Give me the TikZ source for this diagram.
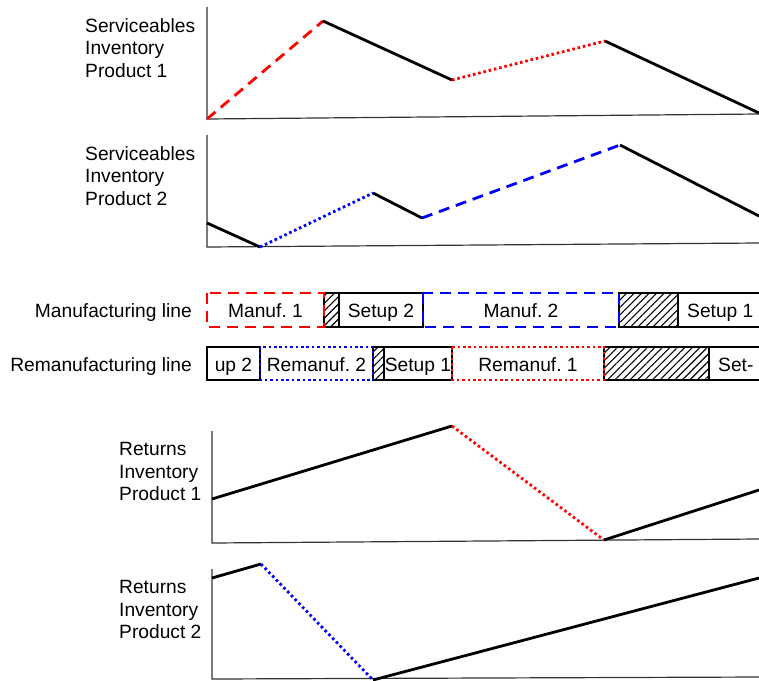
\documentclass[tikz,border=0pt]{standalone}
\usepackage{fontspec}
\setmainfont{Liberation Sans}
\usetikzlibrary{patterns.meta}
\frenchspacing

\tikzset{
	axis/.style={line width=1.2pt, black!80},
	inv/.style={line width=2.8pt},
	dashline/.style={inv, dash pattern=on 11pt off 7pt},
	dotline/.style={inv, dash pattern=on 2.6pt off 2.8pt},
	lab/.style={align=left, anchor=north west, inner sep=0pt, font=\fontsize{19.2}{22.6}\selectfont},
	txt/.style={anchor=base, inner sep=0pt, font=\fontsize{19.2}{22.6}\selectfont},
	bar/.style={draw, line width=2.8pt},
	idle/.style={bar, pattern={Lines[angle=45, distance=5.3pt, line width=1.1pt]}},
}

\begin{document}
\begin{tikzpicture}[x=1pt, y=-1pt]
	\useasboundingbox (0,0) rectangle (759,680);
	\clip (0,0) rectangle (759,680);

	% serviceables, product 1
	\node[lab] (sv1) at (85,18) {Serviceables\\Inventory\\Product 1};
	\draw[axis] (207,7) -- (207,119) -- (759,114);
	\coordinate (a0) at (207,119);
	\coordinate (a1) at (323,21);
	\coordinate (a2) at (452,80);
	\coordinate (a3) at (605,41);
	\coordinate (a4) at (759,113);
	\draw[dashline, red] (a0) -- (a1);
	\draw[inv] (a1) -- (a2);
	\draw[dotline, red] (a2) -- (a3);
	\draw[inv] (a3) -- (a4);

	% serviceables, product 2
	\node[lab] (sv2) at (85,146) {Serviceables\\Inventory\\Product 2};
	\draw[axis] (207,135) -- (207,247) -- (759,243);
	\coordinate (b0) at (207,223);
	\coordinate (b1) at (260,247);
	\coordinate (b2) at (373,193);
	\coordinate (b3) at (422,218);
	\coordinate (b4) at (620,145);
	\coordinate (b5) at (759,216);
	\draw[inv] (b0) -- (b1);
	\draw[dotline, blue] (b1) -- (b2);
	\draw[inv] (b2) -- (b3);
	\draw[dashline, blue] (b3) -- (b4);
	\draw[inv] (b4) -- (b5);

	% manufacturing line
	\node[txt, anchor=base east] (ml) at (192,317) {Manufacturing line};
	\draw[idle] (324,293) rectangle (339,327);
	\draw[idle] (619,293) rectangle (678,327);
	\draw[bar] (339,293) rectangle (423,327);
	\draw[bar] (678,293) rectangle (780,327);
	\draw[bar, dashline, red] (207,293) rectangle (324,327);
	\draw[bar, dashline, blue] (423,293) rectangle (619,327);
	\node[txt] (m1) at (265.5,317) {Manuf. 1};
	\node[txt] (s2) at (381,317) {Setup 2};
	\node[txt] (m2) at (521,317) {Manuf. 2};
	\node[txt, anchor=base west] (s1) at (687,317) {Setup 1};

	% remanufacturing line
	\node[txt, anchor=base east] (rl) at (192,371) {Remanufacturing line};
	\draw[idle] (373,347) rectangle (384,380);
	\draw[idle] (604,347) rectangle (709,380);
	\draw[bar] (207,347) rectangle (260,380);
	\draw[bar] (384,347) rectangle (452,380);
	\draw[bar] (709,347) rectangle (780,380);
	\draw[bar, dotline, blue] (260,347) rectangle (373,380);
	\draw[bar, dotline, red] (452,347) rectangle (604,380);
	\node[txt] (u2) at (233.5,371) {up 2};
	\node[txt] (r2) at (316.5,371) {Remanuf. 2};
	\node[txt] (rs1) at (418,371) {Setup 1};
	\node[txt] (r1) at (528,371) {Remanuf. 1};
	\node[txt, anchor=base west] (st) at (718,371) {Set-};

	% returns, product 1
	\node[lab] (rt1) at (119,442) {Returns\\Inventory\\Product 1};
	\draw[axis] (212,431) -- (212,543) -- (759,539);
	\coordinate (c0) at (212,499);
	\coordinate (c1) at (452,426);
	\coordinate (c2) at (604,540);
	\coordinate (c3) at (759,490);
	\draw[inv] (c0) -- (c1);
	\draw[dotline, red] (c1) -- (c2);
	\draw[inv] (c2) -- (c3);

	% returns, product 2
	\node[lab] (rt2) at (119,580) {Returns\\Inventory\\Product 2};
	\draw[axis] (212,569) -- (212,679) -- (759,677);
	\coordinate (d0) at (212,578);
	\coordinate (d1) at (261,564);
	\coordinate (d2) at (373,680);
	\coordinate (d3) at (759,578);
	\draw[inv] (d0) -- (d1);
	\draw[dotline, blue] (d1) -- (d2);
	\draw[inv] (d2) -- (d3);

\end{tikzpicture}
\end{document}
